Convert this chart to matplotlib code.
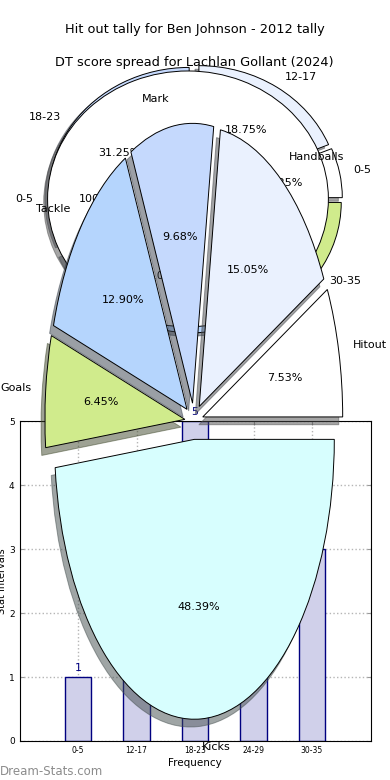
import matplotlib
matplotlib.use("Agg")
import matplotlib.pyplot as plt

# colores del generador, en el orden en que se asignan a las porciones
colores = ["#ffffff", "#eaf1fe", "#c5d9fd", "#b5d5fd", "#d0eb8c", "#d7fefe"]

# Hit outs de Ben Johnson (2012)
hitout_rangos = ["0-5"]
hitout_valores = [1]

# DT score spread de Lachlan Gollant (2024)
dt_rangos = ["0-5", "12-17", "18-23", "24-29", "30-35"]
dt_valores = [1, 3, 5, 4, 3]

# reparto por tipo de stat
stat_nombres = ["Hitout", "Handballs", "Mark", "Tackle", "Goals", "Kicks"]
stat_valores = [7, 14, 9, 12, 6, 45]

bordes = dict(edgecolor="black", linewidth=0.7)

fig = plt.figure(figsize=(3.9, 7.8), dpi=100)

# Tortas de arriba (quedan encimadas en el mismo eje)
ax_top = fig.add_axes([0.05, 0.54, 0.9, 0.41])
ax_top.pie(dt_valores, labels=dt_rangos, colors=colores[:len(dt_valores)],
           explode=[0.05] * len(dt_valores), autopct="%.2f%%", shadow=True,
           wedgeprops=bordes, textprops={"fontsize": 8})
ax_top.pie(hitout_valores, labels=hitout_rangos, colors=colores[:len(hitout_valores)],
           explode=[0.05] * len(hitout_valores), autopct="%.2f%%", shadow=True,
           wedgeprops=bordes, textprops={"fontsize": 8})
ax_top.set_aspect("auto")
ax_top.set_title("Hit out tally for Ben Johnson - 2012 tally", fontsize=9.3, pad=4)

# Histograma de abajo
ax_bar = fig.add_axes([0.05, 0.05, 0.9, 0.41])
pos = list(range(len(dt_rangos)))
ax_bar.bar(pos, dt_valores, width=0.45, color="#d0d0ea", edgecolor="navy", linewidth=1)
for p, v in zip(pos, dt_valores):
    ax_bar.text(p, v + 0.06, str(v), ha="center", va="bottom", color="navy", fontsize=8)
ax_bar.set_xlim(-1, len(dt_rangos))
ax_bar.set_ylim(0, 5)
ax_bar.set_xticks(pos)
ax_bar.set_xticklabels(dt_rangos, fontsize=5.5)
ax_bar.set_yticks(range(6))
ax_bar.tick_params(axis="y", labelsize=6.5)
ax_bar.tick_params(direction="in", top=True, right=True, length=3, color="#999999")
ax_bar.grid(True, linestyle=":", color="#b5b5b5", linewidth=1)
ax_bar.set_axisbelow(True)
ax_bar.set_xlabel("Frequency", fontsize=7.5, labelpad=2)
ax_bar.set_ylabel("Stat Intervals", fontsize=7, labelpad=1)

# Torta grande por tipo de stat, encima de todo
ax_big = fig.add_axes([0.0487, 0.0115, 0.897, 0.897])
ax_big.pie(stat_valores, labels=stat_nombres, colors=colores[:len(stat_valores)],
           explode=[0.065] * len(stat_valores), autopct="%.2f%%", shadow=True,
           wedgeprops=bordes, textprops={"fontsize": 8})
ax_big.set_aspect("auto")
ax_big.set_title("DT score spread for Lachlan Gollant (2024)", fontsize=9.3, pad=4)

fig.text(0.0, 0.003, "Dream-Stats.com", color="#8c8c8c", fontsize=8.5, va="bottom", ha="left")

fig.savefig("out.png", dpi=100)
